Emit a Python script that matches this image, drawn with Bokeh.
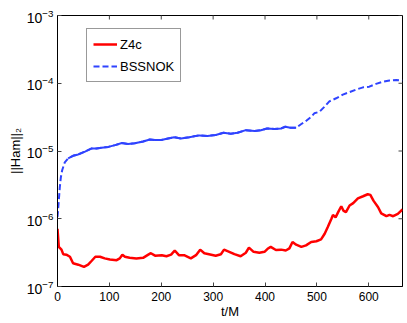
import math
from bokeh.plotting import figure
from bokeh.models import (Legend, LegendItem, Range1d, FixedTicker, ColumnDataSource)
from bokeh.embed import file_html
from bokeh.resources import INLINE

# ---- data ----
z4c_t = [0, 2.5, 7.7, 11, 17, 24, 30, 40, 51, 59,
         66, 73, 82, 91, 101, 114, 120, 125, 130, 139,
         152, 165, 175, 180, 188, 201, 210, 219, 226, 234,
         244, 257, 267, 275, 283, 292, 305, 315, 321, 331,
         341, 353, 363, 369, 378, 389, 399, 405, 411, 421,
         431, 440, 447, 453, 460, 470, 479, 489, 499, 508,
         515, 521, 528, 531, 536, 541, 547, 551, 556, 563,
         570, 579, 589, 598, 603, 609, 618, 624, 634, 640,
         647, 656, 665]
z4c_v = [7.1e-7, 3.85e-7, 3.5e-7, 3.0e-7, 2.95e-7, 2.75e-7, 2.2e-7, 2.1e-7, 1.95e-7, 2.1e-7,
         2.4e-7, 2.75e-7, 2.75e-7, 2.6e-7, 2.5e-7, 2.45e-7, 2.6e-7, 2.95e-7, 2.75e-7, 2.65e-7,
         2.6e-7, 2.65e-7, 2.95e-7, 3.1e-7, 2.85e-7, 2.9e-7, 2.8e-7, 2.95e-7, 3.4e-7, 2.9e-7,
         2.9e-7, 2.6e-7, 2.9e-7, 3.5e-7, 3.1e-7, 3.0e-7, 2.85e-7, 3.0e-7, 3.5e-7, 3.25e-7,
         3.0e-7, 2.8e-7, 3.15e-7, 3.75e-7, 3.25e-7, 3.15e-7, 3.25e-7, 3.6e-7, 3.85e-7, 3.45e-7,
         3.5e-7, 3.4e-7, 3.65e-7, 4.55e-7, 4.15e-7, 3.85e-7, 4.05e-7, 4.55e-7, 4.65e-7, 4.95e-7,
         6.0e-7, 7.55e-7, 1.0e-6, 1.14e-6, 1.05e-6, 1.25e-6, 1.53e-6, 1.32e-6, 1.25e-6, 1.57e-6,
         1.7e-6, 2.0e-6, 2.15e-6, 2.3e-6, 2.25e-6, 1.85e-6, 1.48e-6, 1.2e-6, 1.09e-6, 1.14e-6,
         1.09e-6, 1.18e-6, 1.37e-6]

bss_t = [0, 2.5, 4.4, 6.4, 9, 14, 20.5, 30, 40, 53,
         66, 75, 85, 98, 111, 124, 136, 149, 165, 178,
         188, 200, 213, 225, 238, 254, 273, 289, 305, 320,
         334, 347, 363, 380, 392, 404, 418, 431, 439, 449,
         460, 470, 479, 489, 495, 505, 515, 524, 537, 550,
         563, 576, 589, 601, 614, 627, 640, 653, 665]
bss_v = [1.06e-6, 1.85e-6, 2.9e-6, 4.06e-6, 5.2e-6, 6.8e-6, 7.8e-6, 8.5e-6, 8.9e-6, 9.8e-6,
         1.09e-5, 1.09e-5, 1.12e-5, 1.15e-5, 1.22e-5, 1.31e-5, 1.27e-5, 1.3e-5, 1.38e-5, 1.48e-5,
         1.45e-5, 1.45e-5, 1.53e-5, 1.6e-5, 1.53e-5, 1.6e-5, 1.7e-5, 1.67e-5, 1.72e-5, 1.86e-5,
         1.8e-5, 1.86e-5, 2.03e-5, 1.97e-5, 2.03e-5, 2.15e-5, 2.12e-5, 2.15e-5, 2.28e-5, 2.2e-5,
         2.2e-5, 2.5e-5, 2.78e-5, 3.2e-5, 3.6e-5, 3.8e-5, 4.53e-5, 5.4e-5, 6.0e-5, 6.8e-5,
         7.4e-5, 8.1e-5, 8.7e-5, 8.9e-5, 9.8e-5, 1.05e-4, 1.1e-4, 1.12e-4, 1.1e-4]

x_ticks = [0, 100, 200, 300, 400, 500, 600]
y_ticks = [1e-7, 1e-6, 1e-5, 1e-4, 1e-3]
x_min, x_max = 0, 665
y_min, y_max = 1e-7, 1e-3
series_names = ["Z4c", "BSSNOK"]
x_label = "t/M"
y_label = "||Ham||\u2082"

FONT = "Liberation Sans"
RED = "#ff0000"
BLUE = "#2f43ff"
TICK = "#444444"

p = figure(width=405, height=321, x_range=Range1d(x_min, x_max), y_range=Range1d(y_min, y_max),
           y_axis_type="log", output_backend="svg", toolbar_location=None,
           min_border_left=57, min_border_right=3, min_border_top=15, min_border_bottom=33)
p.background_fill_color = "white"
p.border_fill_color = "white"
p.outline_line_color = "black"
p.outline_line_width = 1
p.xgrid.visible = False
p.ygrid.visible = False

for ax in p.xaxis:
    ax.ticker = FixedTicker(ticks=x_ticks)
    ax.axis_label = x_label
for ax in p.yaxis:
    ax.ticker = FixedTicker(ticks=y_ticks)
    ax.axis_label = y_label

for ax in list(p.xaxis) + list(p.yaxis):
    ax.major_tick_in = 4
    ax.major_tick_out = 0
    ax.minor_tick_in = 0
    ax.minor_tick_out = 0
    ax.major_tick_line_color = TICK
    ax.axis_line_color = "black"
    ax.major_label_text_font = FONT
    ax.major_label_text_font_size = "12px"
    ax.major_label_text_color = "black"
    ax.axis_label_text_font = FONT
    ax.axis_label_text_font_size = "13px"
    ax.axis_label_text_font_style = "normal"
    ax.axis_label_text_color = "black"

p.xaxis.major_label_standoff = 5
p.xaxis.axis_label_standoff = 0
p.yaxis.major_label_standoff = 4
p.yaxis.axis_label_standoff = 1
p.yaxis.major_label_text_font_size = "14px"

# mirrored inward ticks on the top and right edges of the box
p.scatter(x=x_ticks, y=[y_max] * len(x_ticks), marker="dash", size=8, angle=math.pi / 2,
          line_color=TICK, line_width=1)
p.scatter(x=[x_max] * len(y_ticks), y=y_ticks, marker="dash", size=8,
          line_color=TICK, line_width=1)

src_z = ColumnDataSource(dict(t=z4c_t, v=z4c_v))
src_b = ColumnDataSource(dict(t=bss_t, v=bss_v))
mid = [i for i, t in enumerate(bss_t) if 20 <= t <= 460]
src_bm = ColumnDataSource(dict(t=[bss_t[i] for i in mid], v=[bss_v[i] for i in mid]))

r_z = p.line("t", "v", source=src_z, line_color=RED, line_width=2.5)
r_b = p.line("t", "v", source=src_b, line_color=BLUE, line_width=2, line_dash="6 3")
p.line("t", "v", source=src_bm, line_color=BLUE, line_width=2)

legend = Legend(items=[LegendItem(label=series_names[0], renderers=[r_z]),
                       LegendItem(label=series_names[1], renderers=[r_b])],
                location=(29, 204))
legend.label_text_font = FONT
legend.label_text_font_size = "13px"
legend.label_text_color = "black"
legend.border_line_color = "#333333"
legend.border_line_width = 1
legend.background_fill_color = "white"
legend.background_fill_alpha = 1
legend.padding = 6
legend.spacing = 4
legend.label_height = 18
legend.glyph_height = 18
legend.glyph_width = 24
legend.label_standoff = 3
legend.margin = 0
p.add_layout(legend)

open("out.html", "w").write(file_html(p, INLINE))
